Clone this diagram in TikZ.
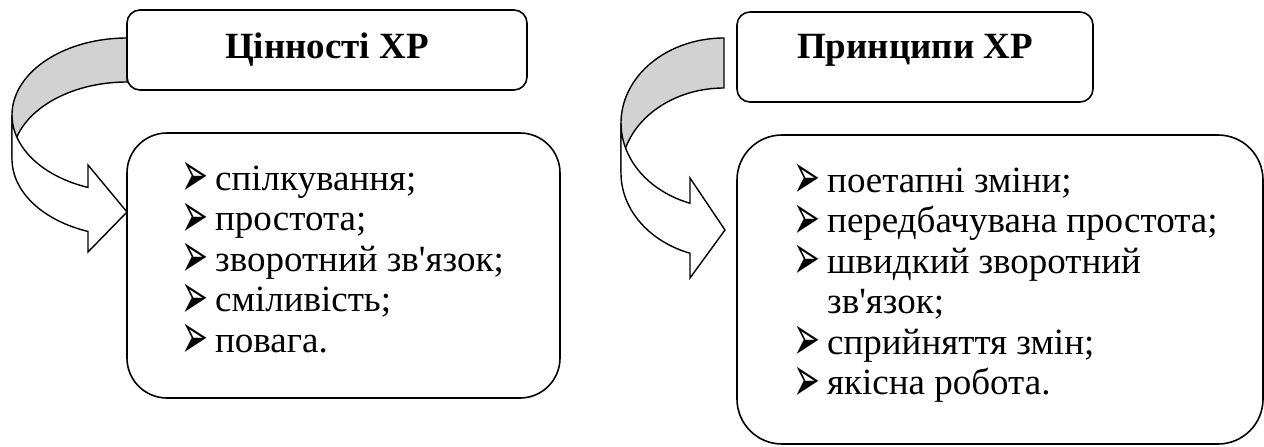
\documentclass[tikz,border=0pt]{standalone}
\usepackage{graphicx}
\usepackage{fontspec}
\setmainfont{Liberation Serif}[Ligatures=TeXOff]
\newfontfamily\bulletfont{DejaVu Sans}
\newcommand\bul{\makebox[34pt][l]{\smash{\bulletfont\fontsize{46}{46}\selectfont\raisebox{-6.5pt}{\scalebox{0.7}[1.4]{➢}}}}}
\tikzset{
  x=1pt, y=-1pt,
  box/.style={draw, line width=1.6pt, inner sep=0pt, rounded corners=#1},
  shapeline/.style={draw, line width=1.4pt},
  backpart/.style={shapeline, fill=gray!35},
  frontpart/.style={shapeline, fill=white},
  titletext/.style={anchor=base, inner sep=0pt, font=\fontsize{37}{40}\selectfont\bfseries},
  itemtext/.style={anchor=base west, inner sep=0pt, font=\fontsize{37}{40}\selectfont},
}
\begin{document}
\begin{tikzpicture}
\useasboundingbox (0,0) rectangle (1264,447);

% ---------- left curved arrow ----------
\path[backpart] (127,38)
  -- plot[domain=270:180, samples=50] ({127+115*cos(\x)},{115+77*sin(\x)})
  -- (12,159)
  -- plot[domain=180:270, samples=50] ({127+115*cos(\x)},{159+77*sin(\x)})
  -- cycle;
\path[frontpart] (12,115)
  -- plot[domain=180:109.82, samples=50] ({127+115*cos(\x)},{115+77*sin(\x)})
  -- (88,165) -- (127,212) -- (88,252)
  -- plot[domain=109.82:180, samples=50] ({127+115*cos(\x)},{159+77*sin(\x)})
  -- cycle;

% ---------- right curved arrow ----------
\path[backpart] (724,38)
  -- plot[domain=270:180, samples=50] ({724+103*cos(\x)},{123+85*sin(\x)})
  -- (621,173)
  -- plot[domain=180:270, samples=50] ({724+103*cos(\x)},{173+85*sin(\x)})
  -- cycle;
\path[frontpart] (621,123)
  -- plot[domain=180:109.27, samples=50] ({724+103*cos(\x)},{123+85*sin(\x)})
  -- (690,178) -- (725,230) -- (690,278)
  -- plot[domain=109.27:180, samples=50] ({724+103*cos(\x)},{173+85*sin(\x)})
  -- cycle;

% ---------- left boxes ----------
\node[box=13pt, minimum width=400pt, minimum height=80pt] (ltop) at (327,50) {};
\node[titletext] (ltitle) at (327,58) {Цінності ХР};
\node[box=40pt, minimum width=433pt, minimum height=265pt] (lbody) at (343.5,265.5) {};
\node[itemtext] (l1) at (181,190) {\bul спілкування;};
\node[itemtext] (l2) at (181,230.5) {\bul простота;};
\node[itemtext] (l3) at (181,271) {\bul зворотний зв'язок;};
\node[itemtext] (l4) at (181,311.5) {\bul сміливість;};
\node[itemtext] (l5) at (181,352) {\bul повага.};

% ---------- right boxes ----------
\node[box=13pt, minimum width=356pt, minimum height=90pt] (rtop) at (915,57) {};
\node[titletext] (rtitle) at (915,58) {Принципи ХР};
\node[box=45pt, minimum width=526pt, minimum height=309pt] (rbody) at (1000,289.5) {};
\node[itemtext] (r1) at (793,192) {\bul поетапні зміни;};
\node[itemtext] (r2) at (793,232.5) {\bul передбачувана простота;};
\node[itemtext] (r3) at (793,273) {\bul швидкий зворотний};
\node[itemtext] (r4) at (793,313.5) {\hspace*{34pt}зв'язок;};
\node[itemtext] (r5) at (793,354) {\bul сприйняття змін;};
\node[itemtext] (r6) at (793,394.5) {\bul якісна робота.};
\end{tikzpicture}
\end{document}
